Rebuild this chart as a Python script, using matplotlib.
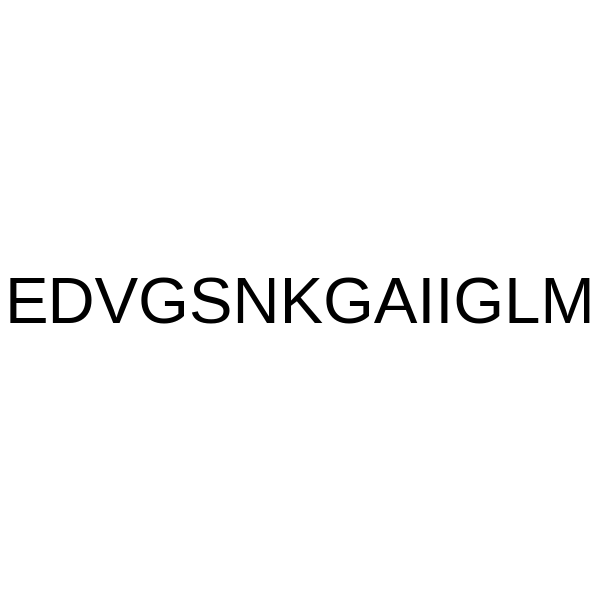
import matplotlib
matplotlib.use("Agg")
import matplotlib.pyplot as plt

# peptide sequence shown in the picture
sequence = "EDVGSNKGAIIGLM"

fig = plt.figure(figsize=(6, 6), dpi=100)
fig.patch.set_facecolor("white")

# text centred horizontally, baseline a bit below the middle
fig.text(0.5, 1 - 323 / 600, sequence, ha="center", va="baseline",
         fontsize=47, family=["Liberation Sans", "DejaVu Sans"], color="black")

fig.savefig("out.png", dpi=100, facecolor="white")
